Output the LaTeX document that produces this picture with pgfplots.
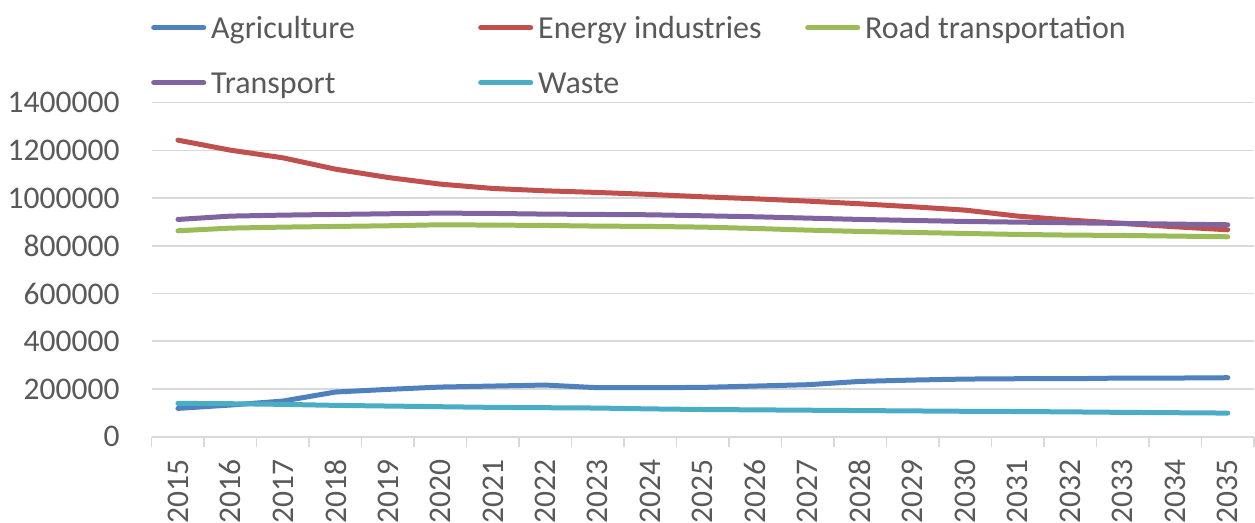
\documentclass[border=0pt]{standalone}
\usepackage{fontspec}
\setmainfont{Carlito}
\usepackage{pgfplots}
\pgfplotsset{compat=1.18}

\definecolor{txt}{HTML}{595959}
\definecolor{gridc}{HTML}{D9D9D9}
\definecolor{agri}{HTML}{4F81BD}
\definecolor{energy}{HTML}{C0504D}
\definecolor{road}{HTML}{9BBB59}
\definecolor{transp}{HTML}{8064A2}
\definecolor{waste}{HTML}{4BACC6}

\newcommand{\lbl}[1]{\makebox[262bp][l]{#1}}

\begin{document}
\begin{tikzpicture}
\begin{axis}[
  scale only axis, width=1102.3bp, height=334bp,
  xmin=-0.5, xmax=20.5, ymin=0, ymax=1400000,
  axis x line*=bottom, axis y line*=left,
  y axis line style={draw=none},
  x axis line style={draw=gridc, line width=1.6bp, -},
  tick align=outside,
  major tick length=0pt,
  xtick={0,...,20},
  xticklabels={2015,2016,2017,2018,2019,2020,2021,2022,2023,2024,2025,2026,2027,2028,2029,2030,2031,2032,2033,2034,2035},
  minor xtick={-0.5,0.5,...,20.5},
  minor tick length=10bp,
  minor x tick style={draw=gridc, line width=1.6bp},
  major x tick style={draw=none},
  ytick={0,200000,...,1400000},
  ytick style={draw=none},
  ymajorgrids,
  major grid style={draw=gridc, line width=1.6bp},
  scaled y ticks=false,
  tick label style={font=\fontsize{31.5bp}{37bp}\selectfont, text=txt},
  yticklabel style={anchor=east, inner sep=0pt,
    /pgf/number format/fixed, /pgf/number format/1000 sep={},
    /pgf/number format/assume math mode=true},
  yticklabel shift=32bp,
  xticklabel style={rotate=90, anchor=east, inner sep=0pt},
  xticklabel shift=23bp,
  every axis plot/.append style={line width=5bp, line cap=round, line join=round, no marks},
  legend columns=3,
  legend image code/.code={\draw[#1] (0bp,11bp) -- (50bp,11bp);},
  legend style={at={(0,1)}, anchor=north west, xshift=-0.5bp, yshift=86bp,
    draw=none, fill=none, inner sep=0pt, outer sep=0pt,
    column sep=0pt, row sep=26bp,
    font=\fontsize{32bp}{38bp}\selectfont, text=txt,
    nodes={inner xsep=5bp, inner ysep=0pt, text height=22bp, text depth=7bp},
    cells={anchor=base west}},
]
% Agriculture
\addplot[agri] coordinates {
 (0,118700) (1,132700) (2,149400) (3,187200) (4,198300) (5,208100) (6,212300)
 (7,216500) (8,205300) (9,205300) (10,206700) (11,212300) (12,217900) (13,231800)
 (14,237400) (15,241600) (16,243000) (17,243000) (18,245800) (19,245800) (20,247200)};
\addlegendentry{\lbl{Agriculture}}
% Energy industries
\addplot[energy] coordinates {
 (0,1243000) (1,1201000) (2,1169000) (3,1121500) (4,1086600) (5,1058700) (6,1040500)
 (7,1030700) (8,1023700) (9,1015400) (10,1005600) (11,997200) (12,987400) (13,976300)
 (14,963700) (15,949700) (16,924600) (17,907800) (18,893900) (19,879900) (20,867300)};
\addlegendentry{\lbl{Energy industries}}
% Road transportation
\addplot[road] coordinates {
 (0,863100) (1,874300) (2,878500) (3,881300) (4,884100) (5,888300) (6,886900)
 (7,885500) (8,882700) (9,881300) (10,878500) (11,872900) (12,865900) (13,860300)
 (14,856100) (15,851900) (16,847800) (17,845000) (18,843600) (19,840800) (20,838000)};
\addlegendentry{\lbl{Road transportation}}
% Transport
\addplot[transp] coordinates {
 (0,910600) (1,924600) (2,928800) (3,931600) (4,934400) (5,937200) (6,935800)
 (7,933000) (8,931600) (9,930200) (10,926000) (11,921800) (12,916200) (13,910600)
 (14,906400) (15,902200) (16,899400) (17,896600) (18,893900) (19,891100) (20,888300)};
\addlegendentry{\lbl{Transport}}
% Waste
\addplot[waste] coordinates {
 (0,139700) (1,138300) (2,135500) (3,131300) (4,128500) (5,125700) (6,122900)
 (7,121500) (8,120100) (9,116500) (10,114000) (11,112500) (12,111000) (13,109500)
 (14,108000) (15,106500) (16,105500) (17,104000) (18,102000) (19,100500) (20,99000)};
\addlegendentry{\lbl{Waste}}
\end{axis}
\pgfresetboundingbox
\path[use as bounding box] (-151.7bp,-86.3bp) rectangle (1103.3bp,436.7bp);
\end{tikzpicture}
\end{document}
